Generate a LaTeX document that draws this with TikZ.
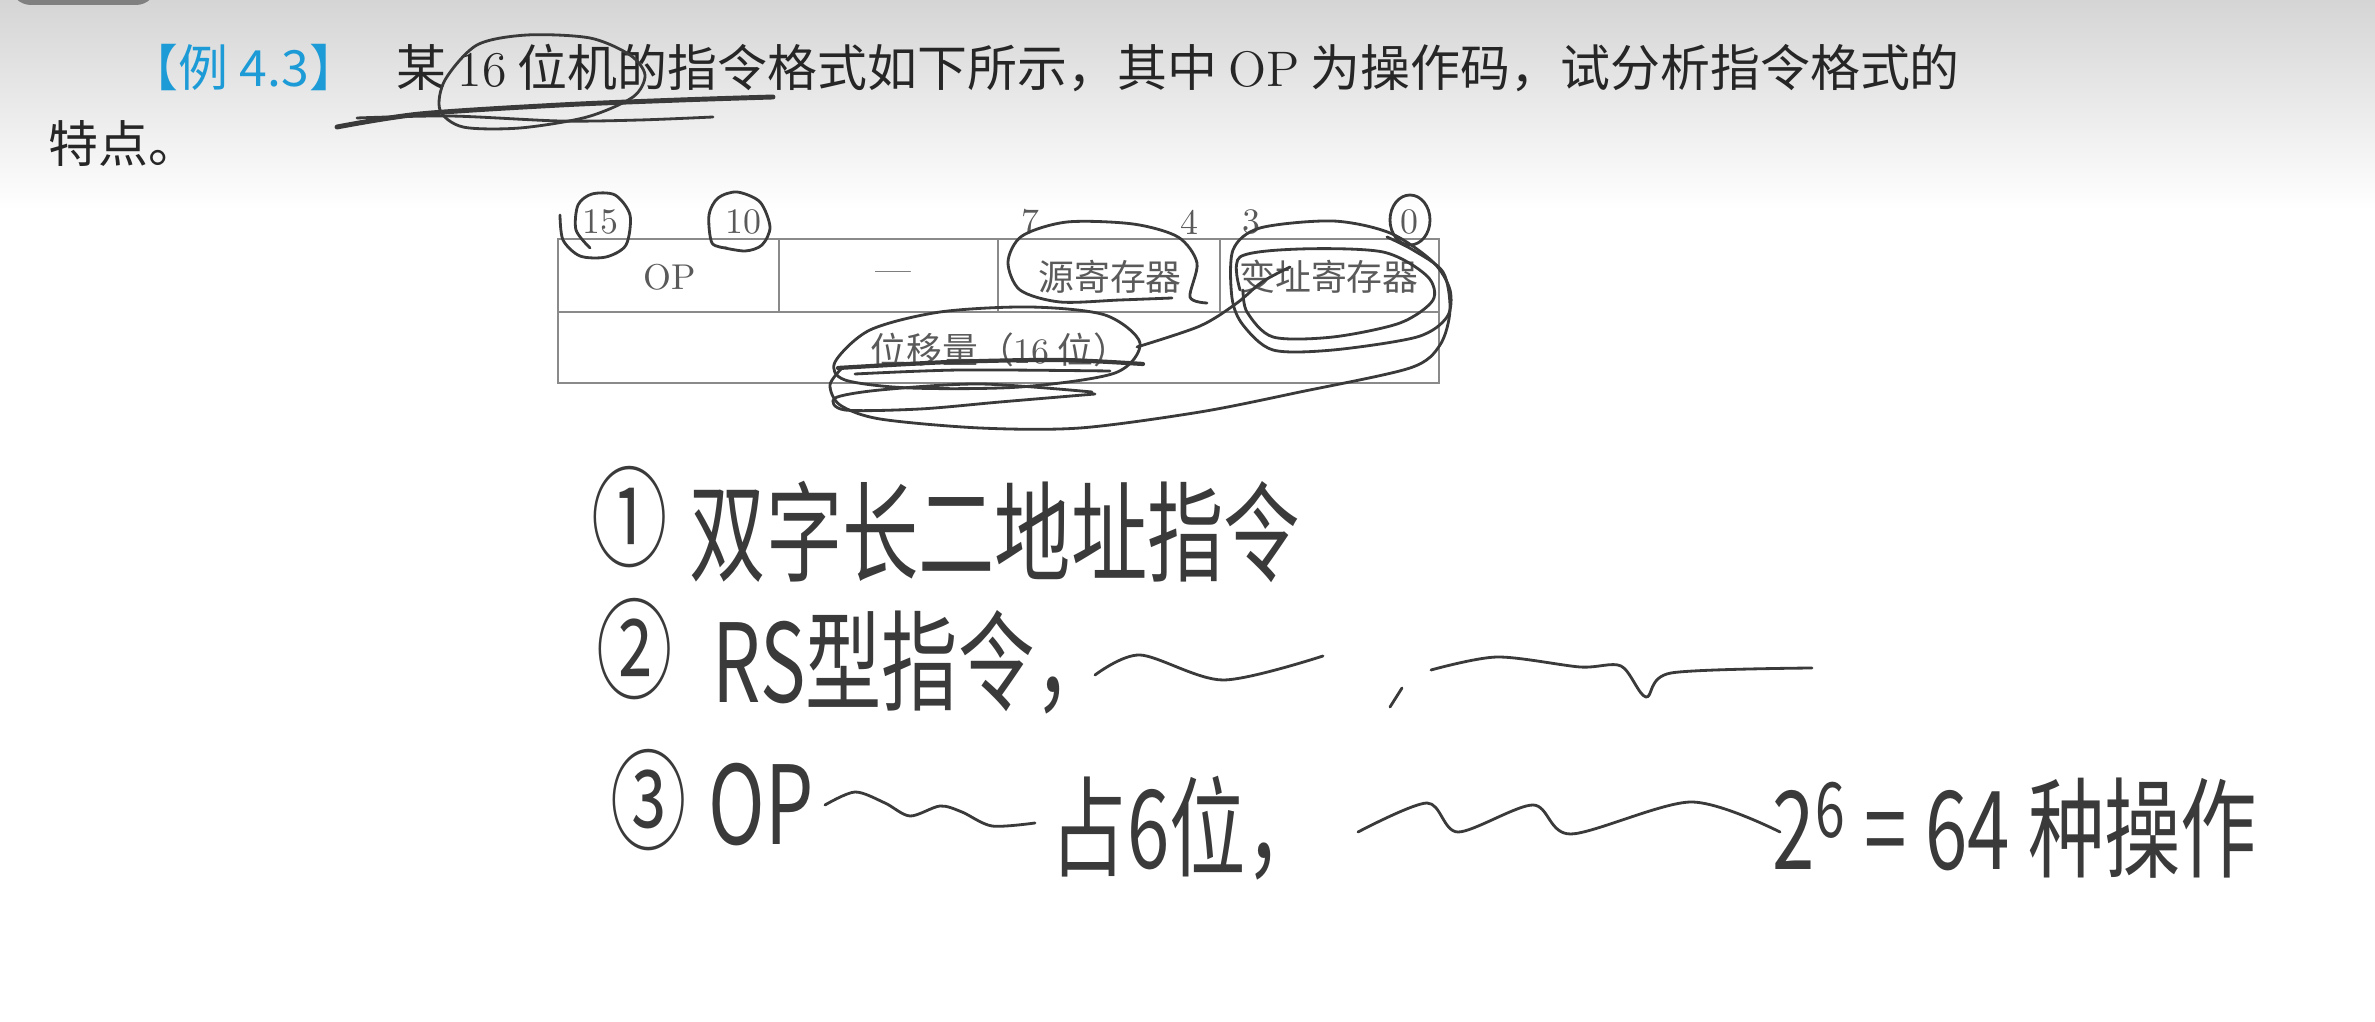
\documentclass[tikz,border=0pt]{standalone}
\usepackage{fontspec}
\newfontfamily\cjk{Noto Sans CJK SC}
\newfontfamily\hw[FakeStretch=0.7]{Noto Sans CJK SC}
\definecolor{ink}{HTML}{3A3A3A}
\definecolor{blueex}{HTML}{1C9BD7}
\definecolor{txt}{HTML}{262626}
\definecolor{tline}{HTML}{8A8A8A}
\definecolor{ttxt}{HTML}{5A5A5A}
\begin{document}
\begin{tikzpicture}[x=0.01cm,y=-0.01cm,
  titletext/.style={inner sep=0pt, anchor=west, text=txt, font=\cjk\fontsize{14.2pt}{16pt}\selectfont},
  tcell/.style={inner sep=0pt, text=ttxt, font=\cjk\fontsize{10.2pt}{12pt}\selectfont},
  tnum/.style={inner sep=0pt, text=ttxt, font=\fontsize{10.2pt}{12pt}\selectfont},
  hand/.style={inner sep=0pt, anchor=west, text=ink, font=\hw\fontsize{31pt}{34pt}\selectfont},
  scrib/.style={draw=ink, line width=0.8pt, line cap=round, line join=round},
  tl/.style={draw=tline, line width=0.6pt}]
\useasboundingbox (0,0) rectangle (2375,1022);
\clip (0,0) rectangle (2375,1022);
\fill[white] (0,0) rectangle (2375,1022);
\shade[top color=gray!33, bottom color=white] (0,0) rectangle (2375,210);
\fill[black!50, rounded corners=6pt] (10,-30) rectangle (157,5);

% title
\node[titletext, text=blueex] (ex) at (128,68) {【例 4.3】};
\node[titletext] (q1) at (396,68) {某 {\rmfamily 16} 位机的指令格式如下所示，其中 {\rmfamily OP} 为操作码，试分析指令格式的};
\node[titletext] (q2) at (48,144) {特点。};

% table
\draw[tl] (558,239) rectangle (1439,383);
\draw[tl] (558,312) -- (1439,312);
\draw[tl] (779,239) -- (779,312);
\draw[tl] (998,239) -- (998,312);
\draw[tl] (1220,239) -- (1220,312);
\node[tnum] (b15) at (600,222) {15};
\node[tnum] (b10) at (743,222) {10};
\node[tnum] (b7) at (1030,222) {7};
\node[tnum] (b4) at (1189,222) {4};
\node[tnum] (b3) at (1251,222) {3};
\node[tnum] (b0) at (1409,222) {0};
\node[tnum] (op) at (670,277) {OP};
\node[tnum] (dash) at (893,277) {\textemdash};
\node[tcell] (src) at (1110,277) {源寄存器};
\node[tcell] (idx) at (1329,277) {变址寄存器};
\node[tcell] (disp) at (1000,350) {位移量（{\rmfamily 16} 位）};

% scribbles on title
\draw[scrib] plot[smooth cycle] coordinates {(440,110) (445,80) (477,45) (527,35) (590,38) (630,55) (645,75) (633,97) (587,117) (520,128) (463,127)};
\draw[scrib, line width=1.4pt] plot[smooth] coordinates {(337,127) (420,114) (560,105) (680,100) (773,97)};
\draw[scrib] plot[smooth] coordinates {(357,118) (450,116) (560,121) (640,120) (713,117)};

% scribbles on table
\draw[scrib] plot[smooth] coordinates {(560,215) (563,240) (580,256) (606,257) (626,245) (630,215) (615,195) (592,194) (578,205) (576,230) (590,248)};
\draw[scrib] plot[smooth] coordinates {(727,248) (712,243) (709,215) (718,198) (737,192) (760,202) (770,227) (762,245) (745,251) (720,247)};
\draw[scrib] (1410,220) ellipse[x radius=20, y radius=25];
\draw[scrib] plot[smooth] coordinates {(1207,303) (1190,297) (1197,263) (1178,237) (1133,224) (1067,222) (1022,236) (1008,262) (1020,290) (1060,302) (1120,300) (1172,298)};
% displacement loops
\draw[scrib] plot[smooth cycle] coordinates {(835,362) (870,330) (940,312) (1030,307) (1105,315) (1140,343) (1115,373) (1020,387) (910,388) (845,380)};
\draw[scrib, line width=1.2pt] plot[smooth] coordinates {(838,368) (950,362) (1060,360) (1143,364)};
\draw[scrib] plot[smooth] coordinates {(855,374) (960,370) (1110,371)};
\draw[scrib] plot[smooth] coordinates {(1092,392) (980,384) (880,390) (835,398) (845,410) (920,409) (1000,402) (1095,394)};
% connector to index loop
\draw[scrib] plot[smooth] coordinates {(1137,347) (1200,326) (1237,303) (1262,282) (1290,267)};
% index register loops
\draw[scrib] plot[smooth cycle] coordinates {(1233,250) (1260,228) (1333,221) (1390,233) (1433,262) (1450,290) (1447,317) (1417,337) (1333,350) (1273,350) (1243,325) (1232,298)};
\draw[scrib] plot[smooth] coordinates {(1240,290) (1240,257) (1300,249) (1383,252) (1427,276) (1433,300) (1400,323) (1333,337) (1273,337) (1247,312) (1243,290)};
\draw[scrib] plot[smooth] coordinates {(1387,237) (1413,250) (1443,272) (1450,310) (1440,345) (1410,368) (1300,392) (1200,412) (1080,428) (980,428) (880,419) (840,405) (830,385) (842,368)};

% handwriting
\node[hand] (n1) at (591,517) {①};
\node[hand] (l1) at (689,532) {双字长二地址指令};
\node[hand] (n2) at (596,649) {②};
\node[hand] (l2) at (712,662) {RS型指令，};
\draw[scrib] plot[smooth] coordinates {(1095,675) (1140,655) (1223,680) (1323,656)};
\draw[scrib] (1402,688) -- (1390,707);
\draw[scrib] plot[smooth, tension=0.5] coordinates {(1431,670) (1497,657) (1580,667) (1621,666) (1646,697) (1671,673) (1812,668)};
\node[hand] (n3) at (610,800) {③};
\node[hand] (l3a) at (708,805) {OP};
\draw[scrib] plot[smooth] coordinates {(825,805) (855,792) (885,803) (910,816) (940,806) (962,812) (992,826) (1035,823)};
\node[hand] (l3b) at (1050,828) {占6位，};
\draw[scrib] plot[smooth] coordinates {(1358,832) (1427,803) (1458,832) (1533,805) (1571,834) (1691,802) (1780,832)};
\node[hand] (l3c) at (1772,828) {2\textsuperscript{6}\,=\,64\,种操作};
\end{tikzpicture}
\end{document}
